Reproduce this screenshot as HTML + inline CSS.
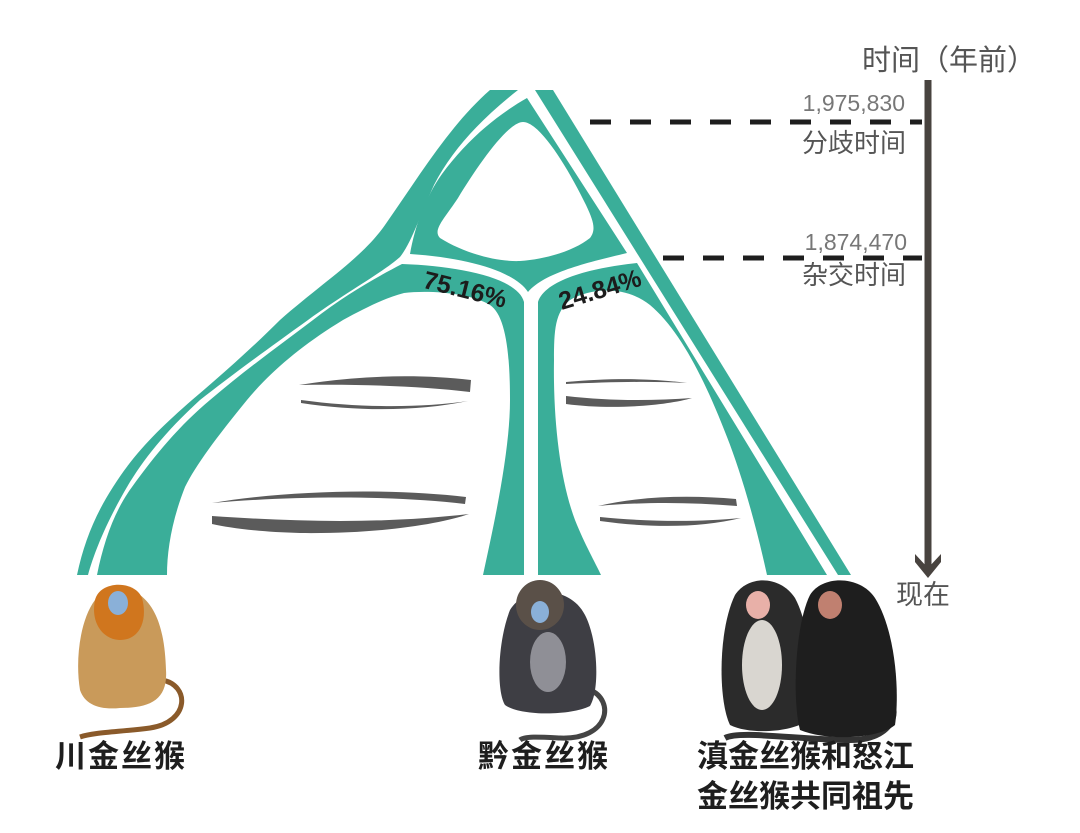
<!DOCTYPE html>
<html><head><meta charset="utf-8"><style>
html,body{margin:0;padding:0;background:#fff;}
svg{display:block}
.cn{font-family:"Liberation Sans","Noto Sans CJK SC",sans-serif;}
</style></head><body>
<svg width="1080" height="833" viewBox="0 0 1080 833" xmlns="http://www.w3.org/2000/svg">
<g fill="#3aae99">
<!-- outer left band -->
<path d="M490,90 L518,90 C480,120 452,150 434,185 C420,215 412,242 400,257 C382,273 345,293 308,320 C262,353 228,378 200,400 C165,432 143,460 127,487 C106,523 94,553 88,575 L77,575 C84,542 95,515 113,487 C135,452 160,428 192,400 C225,372 255,345 280,320 C322,283 362,258 385,225 C420,175 450,125 490,90 Z"/>
<!-- inner ring with hole -->
<path fill-rule="evenodd" d="M527,98 L627,253 C590,262 545,272 528,292 C515,272 470,258 410,254 C415,226 425,198 442,174 C467,140 497,115 527,98 Z
M523,122 C508,122 478,165 458,198 C445,218 432,230 440,238 C462,252 495,262 520,261 C548,259 575,250 590,238 C596,230 594,222 586,205 C568,168 540,122 523,122 Z"/>
<!-- A band (75.16) -->
<path d="M402,264 C460,266 518,278 524,302 L524,575 L483,575 C495,520 510,450 510,400 C510,350 505,315 490,305 C470,293 430,290 404,293 C385,298 365,308 343,320 C302,345 270,372 247,400 C216,438 196,465 185,487 C172,520 167,550 167,575 L97,575 C104,540 115,510 132,487 C155,455 180,425 210,400 C245,370 280,345 313,320 C345,295 375,278 402,264 Z"/>
<!-- B band (24.84) -->
<path d="M538,302 C545,280 590,268 637,263 L827,575 L767,575 C755,520 740,470 727,437 C705,380 680,330 650,305 C625,285 590,288 570,300 C555,312 554,330 554,360 C553,420 560,480 575,520 C585,545 595,562 601,575 L538,575 Z"/>
<!-- right outer band -->
<path d="M535,90 L553,90 L851,575 L838,575 Z"/>
</g>
<!-- gray arrows -->
<g fill="#5b5b5b">
<path d="M299,385 C360,375 420,374 471,380 L470,392 C420,386 360,384 299,385 Z"/>
<path d="M301,400 C360,408 420,408 468,401 C420,411 360,412 301,403 Z"/>
<path d="M212,503 C290,490 390,488 466,497 L465,504 C390,495 290,496 212,503 Z"/>
<path d="M212,516 C300,522 380,524 469,514 C440,524 380,534 300,533 C260,532 230,528 212,524 Z"/>
<path d="M566,382 C610,378 650,378 687,383 C650,381 610,382 566,384 Z"/>
<path d="M566,396 C610,401 650,401 692,398 C665,406 610,410 566,404 Z"/>
<path d="M598,506 C640,496 690,495 736,499 L737,506 C690,502 640,502 598,506 Z"/>
<path d="M600,517 C650,522 700,522 741,518 C700,528 650,528 600,521 Z"/>
</g>
<!-- percentages -->
<text x="465" y="298" text-anchor="middle" transform="rotate(14 465 290)" font-family="'Liberation Sans',sans-serif" font-weight="900" font-size="25" fill="#1c1c1c">75.16%</text>
<text x="600" y="298" text-anchor="middle" transform="rotate(-17 600 290)" font-family="'Liberation Sans',sans-serif" font-weight="900" font-size="25" fill="#1c1c1c">24.84%</text>
<!-- dashed lines -->
<line x1="590" y1="122" x2="922" y2="122" stroke="#1e1e1e" stroke-width="5" stroke-dasharray="21,19"/>
<line x1="663" y1="258" x2="922" y2="258" stroke="#1e1e1e" stroke-width="5" stroke-dasharray="21,19"/>
<!-- axis -->
<line x1="928" y1="80" x2="928" y2="570" stroke="#48433f" stroke-width="7"/>
<path d="M915,554 L928,568 L941,554 L941,562 L928,578 L915,562 Z" fill="#48433f"/>
<g class="cn" fill="#555">
<text x="862" y="70" font-size="29">时间（年前）</text>
<text x="905" y="111" font-size="23" text-anchor="end" fill="#777">1,975,830</text>
<text x="906" y="152" font-size="26" text-anchor="end">分歧时间</text>
<text x="907" y="250" font-size="23" text-anchor="end" fill="#777">1,874,470</text>
<text x="906" y="284" font-size="26" text-anchor="end">杂交时间</text>
<text x="896" y="604" font-size="27">现在</text>
</g>
<!-- monkeys -->
<g>
<path d="M162,680 C190,685 190,722 150,728 C120,732 95,732 80,737" stroke="#8a5a2a" stroke-width="5" fill="none"/>
<path d="M95,600 C80,620 75,660 80,690 C85,705 100,710 120,708 C150,708 168,700 166,670 C165,640 160,610 140,595 C125,580 105,585 95,600 Z" fill="#c99a5a"/>
<path d="M95,600 C90,625 105,640 120,640 C140,640 148,620 142,598 C135,580 100,580 95,600 Z" fill="#d0761e"/>
<ellipse cx="118" cy="603" rx="10" ry="12" fill="#8ab0d8"/>
<path d="M590,690 C615,700 610,740 560,738 C540,737 525,736 520,740" stroke="#444" stroke-width="5" fill="none"/>
<path d="M510,610 C498,640 496,690 505,705 C520,716 570,716 590,706 C600,690 598,640 585,615 C570,585 525,585 510,610 Z" fill="#3e3e44"/>
<ellipse cx="548" cy="662" rx="18" ry="30" fill="#8f8f96"/>
<ellipse cx="540" cy="605" rx="24" ry="25" fill="#5a5048"/>
<ellipse cx="540" cy="612" rx="9" ry="11" fill="#8ab0d8"/>
<path d="M875,690 C905,700 900,740 850,740 C800,740 740,730 725,738" stroke="#333" stroke-width="6" fill="none"/>
<path d="M735,595 C718,630 718,700 730,725 C750,735 790,732 805,722 C815,690 812,630 795,598 C780,575 748,575 735,595 Z" fill="#2b2b2b"/>
<ellipse cx="762" cy="665" rx="20" ry="45" fill="#d9d6d0"/>
<ellipse cx="758" cy="605" rx="12" ry="14" fill="#e8b0a8"/>
<path d="M810,595 C795,625 792,700 800,730 C830,742 880,738 895,725 C900,690 895,630 875,598 C860,575 822,575 810,595 Z" fill="#1e1e1e"/>
<ellipse cx="830" cy="605" rx="12" ry="14" fill="#c08070"/>
</g>
<g class="cn" font-weight="bold" font-size="31" fill="#1e1e1e">
<text x="55" y="767" letter-spacing="2">川金丝猴</text>
<text x="478" y="767" letter-spacing="2">黔金丝猴</text>
<text x="697" y="767">滇金丝猴和怒江</text>
<text x="697" y="807">金丝猴共同祖先</text>
</g>
</svg>
</body></html>
